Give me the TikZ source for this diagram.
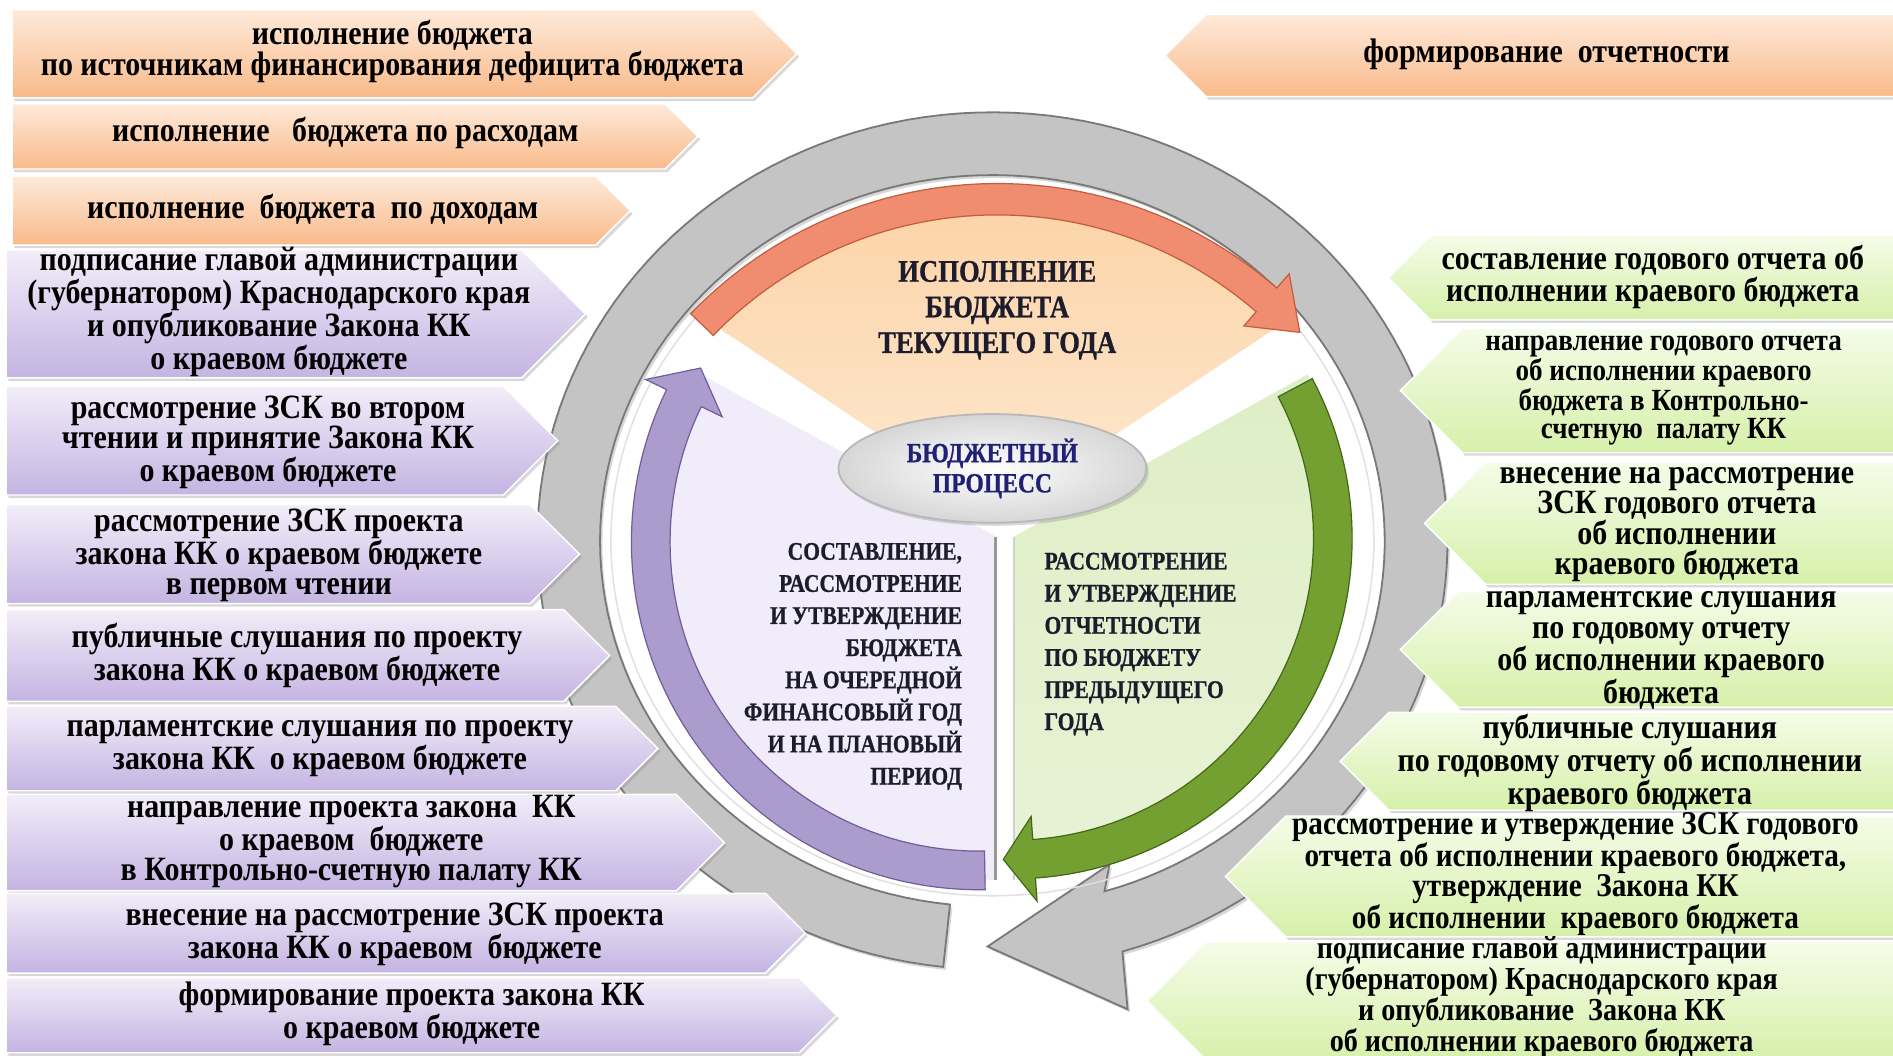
\documentclass[tikz,border=0pt]{standalone}
\usepackage{fontspec}
\setmainfont{Liberation Serif}
\newfontfamily\cfont{Liberation Serif}[FakeStretch=0.88]
\newfontfamily\capfont{Liberation Serif}[FakeStretch=0.85,FakeBold=0.8]
\usetikzlibrary{shapes.geometric,shadows}
\definecolor{orTop}{RGB}{254,234,218}
\definecolor{orBot}{RGB}{249,186,138}
\definecolor{puTop}{RGB}{242,237,249}
\definecolor{puBot}{RGB}{196,180,226}
\definecolor{grTop}{RGB}{245,252,232}
\definecolor{grBot}{RGB}{214,240,170}
\definecolor{ringGray}{RGB}{196,196,196}
\definecolor{ringEdge}{RGB}{120,120,120}
\definecolor{secOrA}{RGB}{252,212,168}
\definecolor{secOrB}{RGB}{253,232,208}
\definecolor{secPu}{RGB}{241,236,249}
\definecolor{secGrA}{RGB}{222,238,198}
\definecolor{secGrB}{RGB}{232,243,214}
\definecolor{arcRed}{RGB}{240,140,112}
\definecolor{arcRedE}{RGB}{196,92,62}
\definecolor{arcPu}{RGB}{172,156,206}
\definecolor{arcPuE}{RGB}{112,94,152}
\definecolor{arcGr}{RGB}{116,160,50}
\definecolor{arcGrE}{RGB}{66,104,22}
\definecolor{navyT}{RGB}{32,32,118}
\definecolor{darkT}{RGB}{28,28,44}
\newcommand\rarrbox[5]{\path[#1] (#2,#3) -- ({#5-(#4-#3)/2},#3) -- (#5,{(#3+#4)/2}) -- ({#5-(#4-#3)/2},#4) -- (#2,#4) -- cycle;}
\newcommand\larrbox[5]{\path[#1] (#2,#3) -- ({#5+(#4-#3)/2},#3) -- (#5,{(#3+#4)/2}) -- ({#5+(#4-#3)/2},#4) -- (#2,#4) -- cycle;}
\newcommand\arcband[8]{%
\path[#1] plot[domain=#6:#7,samples=60] ({#2+(#4+#5)*cos(\x)},{#3+(#4+#5)*sin(\x)})
 -- ({#2+(#4+2.2*#5)*cos(#7)},{#3+(#4+2.2*#5)*sin(#7)})
 -- ({#2+#4*cos(#8)},{#3+#4*sin(#8)})
 -- ({#2+(#4-2.2*#5)*cos(#7)},{#3+(#4-2.2*#5)*sin(#7)})
 -- plot[domain=#7:#6,samples=60] ({#2+(#4-#5)*cos(\x)},{#3+(#4-#5)*sin(\x)}) -- cycle;}
\tikzset{
 shad/.style={drop shadow={shadow xshift=2pt,shadow yshift=-2.5pt,opacity=0.3}},
 obox/.style={top color=orTop,bottom color=orBot,draw=white,line width=1.2pt,shad},
 pbox/.style={top color=puTop,bottom color=puBot,draw=white,line width=1.2pt,shad},
 gbox/.style={top color=grTop,bottom color=grBot,draw=white,line width=1.2pt,shad},
 btext/.style={font=\cfont\bfseries\fontsize{28.2}{25}\selectfont,align=center,inner sep=0pt,text=black},
 ctext/.style={font=\capfont\bfseries\fontsize{21}{26.6}\selectfont,inner sep=0pt,text=darkT},
}
\begin{document}
\begin{tikzpicture}[x=1pt,y=-1pt]
\useasboundingbox (0,0) rectangle (1568,874);
\fill[white] (0,0) rectangle (1568,874);
% big gray cycle arrow
\path[fill=ringGray,draw=ringEdge,line width=1.5pt,shad]
 plot[domain=96.2:433.4,samples=150] ({822+377*cos(\x)},{448+355*sin(\x)})
 -- (934,836) -- (818,784) -- (919,716)
 -- plot[domain=433.4:96.2,samples=150] ({822+325*cos(\x)},{448+303*sin(\x)}) -- cycle;
\draw[black!12,line width=1.2pt] (822,448) ellipse [x radius=316,y radius=294];
% sectors
\path[top color=secOrA,bottom color=secOrB] (826,425) -- plot[domain=225:315,samples=60] ({826+337*cos(\x)},{505+337*sin(\x)}) -- cycle;
\path[fill=secPu] (826,445) -- (826,729) -- plot[domain=87:211,samples=60] ({811+280*cos(\x)},{449+280*sin(\x)}) -- cycle;
\draw[black!40,line width=3pt] (824.5,445) -- (824.5,729);
\path[top color=secGrA,bottom color=secGrB] (839,445) -- (839,729) -- plot[domain=90:-29,samples=60] ({838+280*cos(\x)},{446+280*sin(\x)}) -- cycle;
\draw[black!18,line width=2pt] (840,445) -- (840,729);
% coloured arcs
\arcband{fill=arcRed,draw=arcRedE,line width=1pt}{826}{505}{340}{13}{224}{311}{317.5}
\arcband{fill=arcPu,draw=arcPuE,line width=1pt}{811}{449}{272}{16}{89}{206}{212}
\arcband{fill=arcGr,draw=arcGrE,line width=1pt}{838}{446}{266}{16}{-28}{86}{91.5}
% centre
\node[ellipse,minimum width=255pt,minimum height=90pt,inner color=white,outer color=black!16,draw=black!28,line width=1.5pt,shad,
 font=\capfont\bfseries\fontsize{23}{25}\selectfont,text=navyT,align=center,inner sep=0pt] (bp) at (822,388) {БЮДЖЕТНЫЙ\\ПРОЦЕСС};
\node[font=\capfont\bfseries\fontsize{26}{29.5}\selectfont,text=darkT,align=center,inner sep=0pt] (tOr) at (826,257) {ИСПОЛНЕНИЕ\\БЮДЖЕТА\\ТЕКУЩЕГО ГОДА};
\node[ctext,anchor=east,align=right] (tPu) at (797,552) {СОСТАВЛЕНИЕ,\\РАССМОТРЕНИЕ\\И УТВЕРЖДЕНИЕ\\БЮДЖЕТА\\НА ОЧЕРЕДНОЙ\\ФИНАНСОВЫЙ ГОД\\И НА ПЛАНОВЫЙ\\ПЕРИОД};
\node[ctext,anchor=west,align=left] (tGr) at (865,533.5) {РАССМОТРЕНИЕ\\И УТВЕРЖДЕНИЕ\\ОТЧЕТНОСТИ\\ПО БЮДЖЕТУ\\ПРЕДЫДУЩЕГО\\ГОДА};
% left orange boxes
\rarrbox{obox}{10}{8}{81}{660}
\rarrbox{obox}{10}{86}{140}{578}
\rarrbox{obox}{10}{146}{203}{522}
% left purple boxes
\rarrbox{pbox}{5}{207}{313}{485}
\rarrbox{pbox}{5}{320}{410}{462}
\rarrbox{pbox}{5}{418}{500}{480}
\rarrbox{pbox}{5}{505}{581}{505}
\rarrbox{pbox}{5}{585}{655}{545}
\rarrbox{pbox}{5}{658}{738}{600}
\rarrbox{pbox}{5}{740}{806}{667}
\rarrbox{pbox}{5}{810}{872}{693}
% right boxes
\larrbox{obox}{1575}{12}{80}{965}
\larrbox{gbox}{1575}{195}{265}{1150}
\larrbox{gbox}{1575}{272}{375}{1160}
\larrbox{gbox}{1575}{383}{484}{1180}
\larrbox{gbox}{1575}{490}{586}{1160}
\larrbox{gbox}{1575}{590}{671}{1110}
\larrbox{gbox}{1575}{676}{776}{1015}
\larrbox{gbox}{1575}{780}{878}{950}
% texts left
\node[btext] (tB1) at (325,42.5) {исполнение бюджета\\по источникам финансирования дефицита бюджета};
\node[btext] (tB2) at (286,110) {исполнение\ \ \ бюджета по расходам};
\node[btext] (tB3) at (259,173) {исполнение\ \ бюджета\ \ по доходам};
\node[btext] (tP1) at (231,258.5) {подписание главой администрации\\(губернатором) Краснодарского края\\и опубликование Закона КК\\о краевом бюджете};
\node[btext] (tP2) at (222,366) {рассмотрение ЗСК во втором\\чтении и принятие Закона КК\\о краевом бюджете};
\node[btext] (tP3) at (231,460) {рассмотрение ЗСК проекта\\закона КК о краевом бюджете\\в первом чтении};
\node[btext] (tP4) at (246,543) {публичные слушания по проекту\\закона КК о краевом бюджете};
\node[btext] (tP5) at (265,620) {парламентские слушания по проекту\\закона КК\ \ о краевом бюджете};
\node[btext] (tP6) at (291,697) {направление проекта закона\ \ КК\\о краевом\ \ бюджете\\в Контрольно-счетную палату КК};
\node[btext] (tP7) at (327,774) {внесение на рассмотрение ЗСК проекта\\закона КК о краевом\ \ бюджете};
\node[btext] (tP8) at (341,840) {формирование проекта закона КК\\о краевом бюджете};
% texts right
\node[btext] (tR0) at (1281,45) {формирование\ \ отчетности};
\node[btext] (tG1) at (1369,229.5) {составление годового отчета об\\исполнении краевого бюджета};
\node[btext,font=\cfont\bfseries\fontsize{25.5}{22}\selectfont] (tG2) at (1378,323.5) {направление годового отчета\\об исполнении краевого\\бюджета в Контрольно-\\счетную\ \ палату КК};
\node[btext] (tG3) at (1389,434.5) {внесение на рассмотрение\\ЗСК годового отчета\\об исполнении\\краевого бюджета};
\node[btext] (tG4) at (1376,539) {парламентские слушания\\по годовому отчету\\об исполнении краевого\\бюджета};
\node[btext] (tG5) at (1350,632) {публичные слушания\\по годовому отчету об исполнении\\краевого бюджета};
\node[btext,font=\cfont\bfseries\fontsize{27.5}{24.5}\selectfont] (tG6) at (1305,724) {рассмотрение и утверждение ЗСК годового\\отчета об исполнении краевого бюджета,\\утверждение\ \ Закона КК\\об исполнении\ \ краевого бюджета};
\node[btext,font=\cfont\bfseries\fontsize{26.5}{23.5}\selectfont] (tG7) at (1277,826) {подписание главой администрации\\(губернатором) Краснодарского края\\и опубликование\ \ Закона КК\\об исполнении краевого бюджета};
\end{tikzpicture}
\end{document}
